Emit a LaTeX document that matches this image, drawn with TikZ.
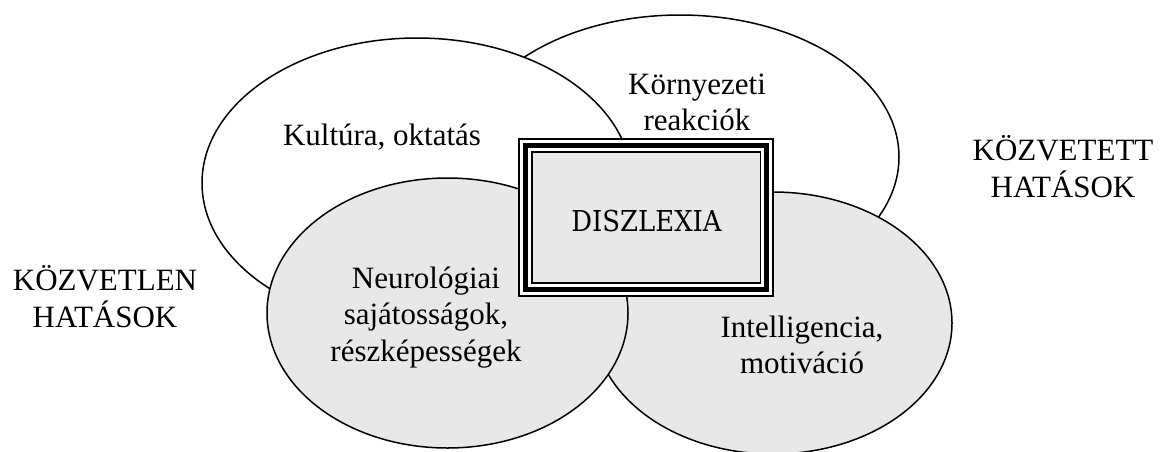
\documentclass[tikz,border=0pt]{standalone}
\usepackage{fontspec}
\setmainfont{Liberation Serif}
\newfontfamily\boxfont[FakeStretch=0.9]{DejaVu Serif}
\definecolor{grayfill}{HTML}{E8E8E8}
\tikzset{
  blob/.style={draw=black,line width=1.5pt},
  lbl/.style={align=center,inner sep=0pt,font=\fontsize{31}{36.5}\selectfont}
}

\begin{document}
\begin{tikzpicture}[x=1pt,y=-1pt]
  \useasboundingbox (0,0) rectangle (1168,451);

  %OUTER ELLIPSES
  \filldraw[blob,fill=white] (680,157) ellipse (219 and 142);
  \filldraw[blob,fill=white] (417,183) ellipse (215 and 145);
  %INNER ELLIPSES
  \filldraw[blob,fill=grayfill] (773,323) ellipse (179 and 131);
  \filldraw[blob,fill=grayfill] (447.5,313) ellipse (180.5 and 135);

  %BOX
  \node[fill=white,inner sep=0pt,minimum width=255.7pt,minimum height=158.4pt] (disz) at (646.2,217.5) {};
  \fill[grayfill] ([shift={(14,14)}]disz.north west) rectangle ([shift={(-14,-14)}]disz.south east);
  \foreach \ins/\lw in {1/2, 7.5/5.3, 13.8/1.8}
    \draw[line width=\lw pt] ([shift={(\ins,\ins)}]disz.north west) rectangle ([shift={(-\ins,-\ins)}]disz.south east);
  \node[inner sep=0pt,font=\boxfont\fontsize{28.8}{34}\selectfont] (dtext) at (646.5,221) {DISZLEXIA};

  %LABELS
  \node[lbl,anchor=base] (kult) at (382,145) {Kultúra, oktatás};
  \node[lbl] (korny) at (697,102.5) {Környezeti\\reakciók};
  \node[lbl] (neuro) at (426,317.3) {Neurológiai\\sajátosságok,\\részképességek};
  \node[lbl] (intel) at (802,345) {Intelligencia,\\motiváció};
  \node[lbl] (kozvl) at (105,296.5) {KÖZVETLEN\\HATÁSOK};
  \node[lbl] (kozvt) at (1063,166.5) {KÖZVETETT\\HATÁSOK};
\end{tikzpicture}
\end{document}
